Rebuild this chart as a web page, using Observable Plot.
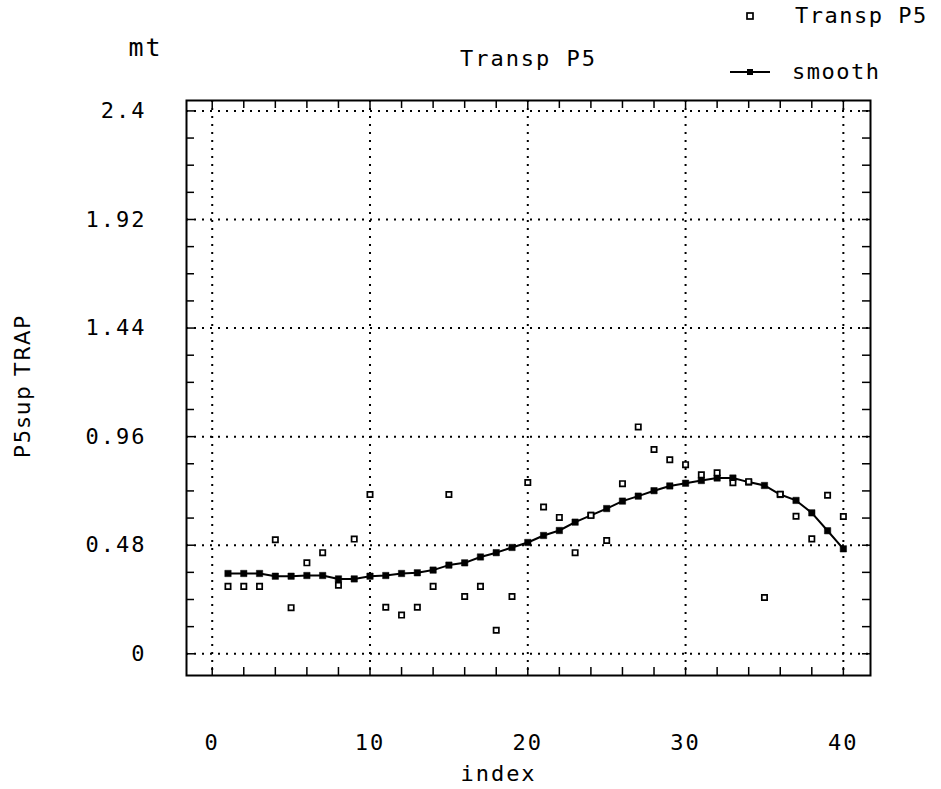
<!DOCTYPE html>
<html><head><meta charset="utf-8">
<script src="https://cdn.jsdelivr.net/npm/d3@7"></script>
<script src="https://cdn.jsdelivr.net/npm/@observablehq/plot@0.6"></script>
<style>
body{margin:0;background:#fff;}
#wrap{position:relative;width:941px;height:789px;background:#fff;}
.legend{position:absolute;font-family:"DejaVu Sans Mono",monospace;font-size:22px;letter-spacing:1.5px;color:#000;white-space:nowrap;line-height:1;}
</style></head><body><div id="wrap"></div>
<script>
const index = [1,2,3,4,5,6,7,8,9,10,11,12,13,14,15,16,17,18,19,20,21,22,23,24,25,26,27,28,29,30,31,32,33,34,35,36,37,38,39,40];
const transp = [0.298,0.298,0.298,0.504,0.204,0.402,0.447,0.303,0.507,0.704,0.206,0.171,0.206,0.298,0.704,0.253,0.298,0.104,0.253,0.757,0.649,0.603,0.447,0.612,0.501,0.752,1.003,0.903,0.858,0.836,0.791,0.800,0.756,0.761,0.249,0.705,0.608,0.508,0.701,0.607];
const smooth = [0.355,0.355,0.355,0.343,0.343,0.346,0.346,0.331,0.331,0.343,0.346,0.355,0.358,0.370,0.392,0.402,0.428,0.447,0.470,0.492,0.523,0.545,0.582,0.612,0.642,0.675,0.697,0.721,0.742,0.754,0.766,0.777,0.777,0.759,0.744,0.704,0.678,0.623,0.544,0.464];
const xTicks = [0,10,20,30,40];
const yTicks = [0,0.48,0.96,1.44,1.92,2.4];
const xMinor = [0,2,4,6,8,10,12,14,16,18,20,22,24,26,28,30,32,34,36,38,40];
const yMinor = [0,0.12,0.24,0.36,0.48,0.6,0.72,0.84,0.96,1.08,1.2,1.32,1.44,1.56,1.68,1.8,1.92,2.04,2.16,2.28,2.4];
const titleText = "Transp P5";
const unitText = "mt";
const xLabel = "index";
const yLabel = "P5sup TRAP";
const legendLabels = ["Transp P5", "smooth"];

const rows = index.map((i, k) => ({index: i, transp: transp[k], smooth: smooth[k]}));
const W = 941, H = 789, mt = 100, ml = 186, mr = 71, mb = 114;
const fw = W - ml - mr, fh = H - mt - mb;
const mono = "DejaVu Sans Mono, monospace";

const plot = Plot.plot({
  width: W, height: H,
  marginTop: mt, marginLeft: ml, marginRight: mr, marginBottom: mb,
  style: {fontFamily: mono, fontSize: "22px", color: "#000", background: "#fff", overflow: "visible"},
  x: {domain: [-1.63, 41.72]},
  y: {domain: [-0.096, 2.446]},
  marks: [
    Plot.gridX(xTicks, {stroke: "#000", strokeOpacity: 1, strokeWidth: 2, strokeDasharray: "2,6"}),
    Plot.gridY(yTicks, {stroke: "#000", strokeOpacity: 1, strokeWidth: 2, strokeDasharray: "2,6"}),
    Plot.tickX(xMinor, {x: d => d, insetTop: fh - 8, stroke: "#000", strokeWidth: 1.5}),
    Plot.tickX(xMinor, {x: d => d, insetBottom: fh - 8, stroke: "#000", strokeWidth: 1.5}),
    Plot.tickY(yMinor, {y: d => d, insetRight: fw - 8, stroke: "#000", strokeWidth: 1.5}),
    Plot.tickY(yMinor, {y: d => d, insetLeft: fw - 8, stroke: "#000", strokeWidth: 1.5}),
    Plot.frame({stroke: "#000", strokeWidth: 2}),
    Plot.axisX(xTicks, {tickSize: 0, tickPadding: 59, label: null, fontSize: 22}),
    Plot.axisY(yTicks, {tickSize: 0, tickPadding: 40, label: null, fontSize: 22, tickFormat: d => String(d)}),
    Plot.line(rows, {x: "index", y: "smooth", stroke: "#000", strokeWidth: 2}),
    Plot.dot(rows, {x: "index", y: "smooth", symbol: "square", fill: "#000", stroke: "#000", strokeWidth: 0.5, r: 3.6}),
    Plot.dot(rows, {x: "index", y: "transp", symbol: "square", stroke: "#000", fill: "#fff", strokeWidth: 1.7, r: 3.0}),
    Plot.text([titleText], {frameAnchor: "top", textAnchor: "middle", lineAnchor: "middle", dx: 0, dy: -42, fontSize: 22, fontFamily: mono}),
    Plot.text([unitText], {frameAnchor: "top-left", textAnchor: "start", lineAnchor: "middle", dx: -58, dy: -53, fontSize: 25, fontFamily: mono}),
    Plot.text([xLabel], {frameAnchor: "bottom", textAnchor: "middle", lineAnchor: "middle", dx: -30, dy: 98, fontSize: 22, fontFamily: mono}),
    Plot.text([yLabel], {frameAnchor: "left", textAnchor: "middle", lineAnchor: "middle", dx: -163, dy: -2, rotate: -90, fontSize: 21, fontFamily: "DejaVu Sans, sans-serif"})
  ]
});
const wrap = document.getElementById("wrap");
wrap.appendChild(plot);
d3.select(plot).selectAll("text").attr("letter-spacing", "2px");

// legend
const lg1 = document.createElement("div");
lg1.className = "legend";
lg1.style.left = "795px"; lg1.style.top = "5px";
lg1.textContent = legendLabels[0];
wrap.appendChild(lg1);
const lg2 = document.createElement("div");
lg2.className = "legend";
lg2.style.left = "792px"; lg2.style.top = "61px";
lg2.textContent = legendLabels[1];
wrap.appendChild(lg2);
const sym = d3.select(wrap).append("svg").attr("width", 200).attr("height", 100)
  .style("position", "absolute").style("left", "700px").style("top", "0px");
sym.append("rect").attr("x", 47).attr("y", 13).attr("width", 6).attr("height", 6)
  .attr("fill", "#fff").attr("stroke", "#000").attr("stroke-width", 1.7);
sym.append("line").attr("x1", 30).attr("x2", 70).attr("y1", 72).attr("y2", 72)
  .attr("stroke", "#000").attr("stroke-width", 2);
sym.append("rect").attr("x", 47).attr("y", 69).attr("width", 6).attr("height", 6).attr("fill", "#000");
</script>
</body></html>
